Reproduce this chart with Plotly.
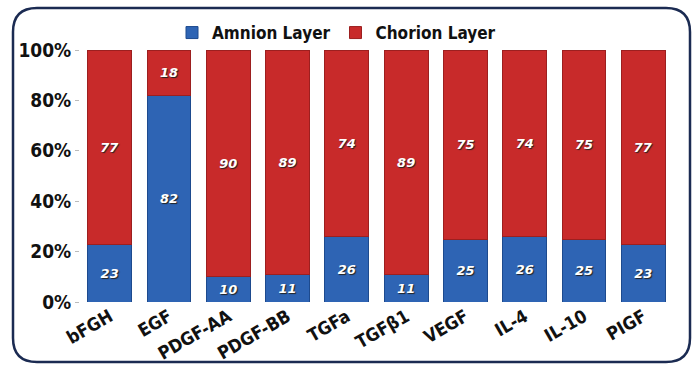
import plotly.graph_objects as go

categories = ["bFGH", "EGF", "PDGF-AA", "PDGF-BB", "TGFa", "TGFβ1", "VEGF", "IL-4", "IL-10", "PIGF"]
amnion = [23, 82, 10, 11, 26, 11, 25, 26, 25, 23]
chorion = [77, 18, 90, 89, 74, 89, 75, 74, 75, 77]
y_ticks = [0, 20, 40, 60, 80, 100]
y_ticklabels = ["0%", "20%", "40%", "60%", "80%", "100%"]

W, H = 695, 366
ML, MR, MT, MB = 80, 22, 50, 64
PW, PH = W - ML - MR, H - MT - MB

def px(x):
    return (x - ML) / PW

def py(y):
    return (H - MB - y) / PH

FONT = "DejaVu Sans Condensed, Liberation Sans Narrow, DejaVu Sans, sans-serif"

lbl_font = dict(family="DejaVu Sans, sans-serif", size=13, color="white",
                style="italic", weight="bold", shadow="1px 1px 1px #222")

fig = go.Figure()
fig.add_trace(go.Bar(
    x=categories, y=amnion, name="Amnion Layer",
    marker=dict(color="#2e64b4", line=dict(color="#1d4a8e", width=1)),
    text=[str(v) for v in amnion], textposition="inside", insidetextanchor="middle",
    textfont=lbl_font, textangle=0,
))
fig.add_trace(go.Bar(
    x=categories, y=chorion, name="Chorion Layer",
    marker=dict(color="#c82a2a", line=dict(color="#9c1f1f", width=1)),
    text=[str(v) for v in chorion], textposition="inside", insidetextanchor="middle",
    textfont=lbl_font, textangle=0,
))

# rounded border
x0, x1, y0, y1, r = px(13), px(690), py(362), py(8), 24
rx, ry = r / PW, r / PH
path = (f"M {x0+rx} {y1} L {x1-rx} {y1} Q {x1} {y1} {x1} {y1-ry} "
        f"L {x1} {y0+ry} Q {x1} {y0} {x1-rx} {y0} "
        f"L {x0+rx} {y0} Q {x0} {y0} {x0} {y0+ry} "
        f"L {x0} {y1-ry} Q {x0} {y1} {x0+rx} {y1} Z")

fig.update_layout(
    width=W, height=H,
    margin=dict(l=ML, r=MR, t=MT, b=MB, autoexpand=False),
    barmode="stack", bargap=0.26,
    paper_bgcolor="white", plot_bgcolor="white",
    font=dict(family=FONT, color="#111"),
    showlegend=True,
    legend=dict(orientation="h", x=px(172), y=py(33), xanchor="left", yanchor="middle",
                font=dict(family=FONT, size=17, weight="bold", color="#111"),
                itemwidth=30, traceorder="normal", bgcolor="rgba(0,0,0,0)"),
    xaxis=dict(tickangle=-30, tickfont=dict(family=FONT, size=18, weight="bold", color="#111"),
               showline=False, ticks="", showgrid=False, automargin=False),
    yaxis=dict(range=[0, 100], tickvals=y_ticks, ticktext=y_ticklabels,
               tickfont=dict(family=FONT, size=19, weight="bold", color="#111"),
               ticks="outside", ticklen=4, tickcolor="#bbb", showgrid=False,
               showline=False, zeroline=False, ticklabelstandoff=0, automargin=False),
    shapes=[dict(type="path", path=path, xref="paper", yref="paper",
                 line=dict(color="#1b2b52", width=2.5), fillcolor="rgba(0,0,0,0)", layer="below")],
)

fig.write_html("out.html")
